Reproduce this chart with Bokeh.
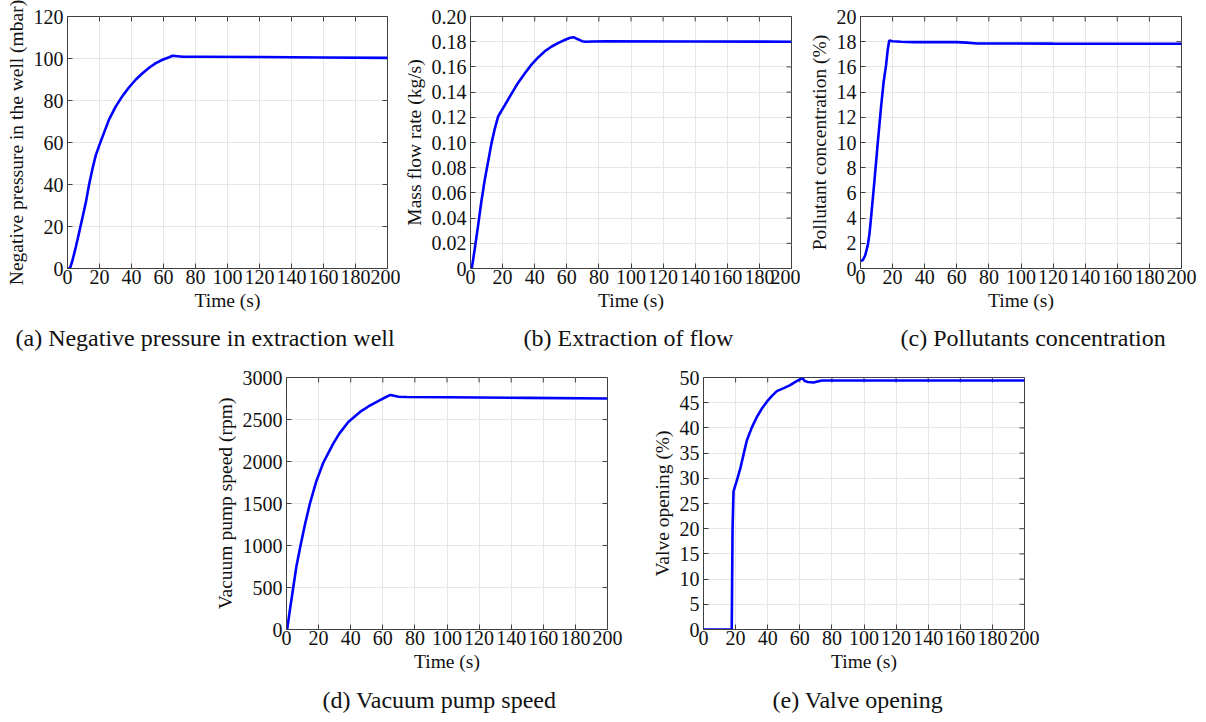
import numpy as np
from bokeh.plotting import figure
from bokeh.layouts import column, row
from bokeh.models import Spacer, FixedTicker, Title
from bokeh.embed import file_html
from bokeh.resources import INLINE

# ---------------- data ----------------
x_ticks = [0, 20, 40, 60, 80, 100, 120, 140, 160, 180, 200]

# (a) Negative pressure in extraction well (mbar)
t_a = [0, 1.5, 3.1, 5.2, 7.3, 9.4, 11.5, 13.5, 15.6, 17.7, 19.8, 21.9, 26, 30.2, 34.4,
       38.5, 42.7, 46.9, 51, 55.2, 59.4, 63.5, 65.6, 68.8, 71.9, 84.4, 120, 160, 200]
v_a = [0, 0, 3.8, 10.2, 17.3, 24.4, 31.6, 40.0, 47.5, 54.0, 58.5, 62.8, 71.0, 77.2, 82.2,
       86.3, 90.0, 93.0, 95.6, 97.8, 99.4, 100.6, 101.3, 101.1, 100.8, 100.8, 100.7, 100.5, 100.3]
yt_a = [0, 20, 40, 60, 80, 100, 120]

# (b) Mass flow rate (kg/s)
t_b = [0, 0.8, 2.5, 4.6, 6.7, 8.8, 10.9, 13.0, 15.1, 17.2, 18.2, 21.3, 25.5, 29.7, 33.9,
       38.1, 42.3, 46.4, 50.6, 54.8, 59.0, 62.1, 64.2, 66.3, 69.5, 71.5, 75.7, 84.1, 140, 200]
v_b = [0, 0, 0.0143, 0.0328, 0.0526, 0.0698, 0.0844, 0.0989, 0.1108, 0.1206, 0.1228, 0.1294,
       0.1386, 0.1475, 0.1550, 0.1620, 0.1677, 0.1725, 0.1762, 0.1791, 0.1815, 0.1831, 0.1836,
       0.1823, 0.1804, 0.1799, 0.1802, 0.1804, 0.1802, 0.1800]
yt_b = [0, 0.02, 0.04, 0.06, 0.08, 0.10, 0.12, 0.14, 0.16, 0.18, 0.20]
yl_b = ["0", "0.02", "0.04", "0.06", "0.08", "0.10", "0.12", "0.14", "0.16", "0.18", "0.20"]

# (c) Pollutant concentration (%)
t_c = [0, 1.4, 2.9, 4.5, 5.6, 6.6, 8.7, 10.7, 12.8, 14.4, 15.9, 16.9, 17.9, 20, 25.2, 33.4,
       60, 66, 72.7, 120, 200]
v_c = [0.62, 0.66, 1.03, 1.83, 2.75, 4.07, 6.98, 9.89, 12.8, 14.8, 16.1, 17.3, 18.1, 18.04,
       18.0, 17.97, 17.97, 17.93, 17.86, 17.85, 17.84]
yt_c = [0, 2, 4, 6, 8, 10, 12, 14, 16, 18, 20]

# (d) Vacuum pump speed (rpm)
t_d = [0, 0.4, 2.1, 4.2, 6.25, 8.75, 11.5, 14.6, 18.5, 22.9, 29.2, 33, 38.5, 45.8, 51,
       54.2, 58.3, 62, 64.8, 67, 69.8, 75, 100, 150, 200]
v_d = [0, 0, 230, 500, 760, 1000, 1250, 1500, 1760, 1985, 2215, 2335, 2470, 2590, 2655,
       2690, 2731, 2768, 2793, 2782, 2770, 2768, 2765, 2758, 2750]
yt_d = [0, 500, 1000, 1500, 2000, 2500, 3000]

# (e) Valve opening (%)
t_e = [0, 17.6, 18.1, 18.7, 20.8, 22.9, 25, 27, 30, 33.3, 36.5, 39.5, 42.5, 45.7, 50, 54,
       57, 60.3, 62, 63, 65, 68.6, 71, 73.8, 120, 200]
v_e = [0, 0, 20, 27.4, 29.6, 31.9, 34.8, 37.5, 40.0, 42.2, 43.9, 45.2, 46.3, 47.3, 47.9,
       48.5, 49.1, 49.7, 49.8, 49.3, 49.1, 49.0, 49.2, 49.4, 49.4, 49.4]
yt_e = [0, 5, 10, 15, 20, 25, 30, 35, 40, 45, 50]

captions = ["(a) Negative pressure in extraction well", "(b) Extraction of flow",
            "(c) Pollutants concentration", "(d) Vacuum pump speed", "(e) Valve opening"]
y_labels = ["Negative pressure in the well (mbar)", "Mass flow rate (kg/s)",
            "Pollutant concentration (%)", "Vacuum pump speed (rpm)", "Valve opening (%)"]

FONT = "Liberation Serif"
FRAME_COL = "#404040"


def make_panel(t, v, yticks, ylabel, caption, width, height, bl, bt, fw, cap_offset,
               cap_standoff, ylabels=None):
    ymax = yticks[-1]
    p = figure(width=width, height=height, output_backend="svg", toolbar_location=None,
               x_range=(0, 200), y_range=(0, ymax),
               min_border_left=bl, min_border_top=bt,
               min_border_right=width - bl - fw, min_border_bottom=height - bt - 252,
               background_fill_color="white", border_fill_color="white")
    p.outline_line_color = FRAME_COL
    p.outline_line_width = 1
    p.outline_line_alpha = 1
    p.xaxis.ticker = FixedTicker(ticks=x_ticks)
    p.yaxis.ticker = FixedTicker(ticks=yticks)
    if ylabels is not None:
        p.yaxis.major_label_overrides = {k: s for k, s in zip(yticks, ylabels)}
    for ax in (p.xaxis[0], p.yaxis[0]):
        ax.major_tick_in = 5
        ax.major_tick_out = 0
        ax.minor_tick_in = 0
        ax.minor_tick_out = 0
        ax.axis_line_color = FRAME_COL
        ax.major_tick_line_color = FRAME_COL
        ax.major_label_text_font = FONT
        ax.major_label_text_font_size = "20px"
        ax.major_label_text_color = "#111111"
        ax.axis_label_text_font = FONT
        ax.axis_label_text_font_size = "19.5px"
        ax.axis_label_text_font_style = "normal"
        ax.axis_label_text_color = "#111111"
    p.xaxis.major_label_standoff = 1
    p.xaxis.axis_label_standoff = 3
    p.yaxis.major_label_standoff = 4
    p.yaxis.axis_label_standoff = 4
    p.xaxis.axis_label = "Time (s)"
    p.yaxis.axis_label = ylabel
    p.grid.grid_line_color = "#e6e6e6"
    p.grid.grid_line_width = 1
    # inward ticks on top and right edges
    p.scatter(x=x_ticks, y=[ymax] * len(x_ticks), marker="dash", angle=np.pi / 2,
              size=10, line_color=FRAME_COL, line_width=1)
    p.scatter(x=[200] * len(yticks), y=yticks, marker="dash",
              size=10, line_color=FRAME_COL, line_width=1)
    p.line(t, v, line_color="#0000ff", line_width=2.6)
    cap = Title(text=caption, align="left", offset=cap_offset,
                text_font=FONT, text_font_size="24px", text_font_style="normal",
                text_color="#111111", standoff=cap_standoff)
    p.add_layout(cap, "below")
    return p


pa = make_panel(t_a, v_a, yt_a, y_labels[0], captions[0], 400, 360, 67, 16, 320, -52, 18)
pb = make_panel(t_b, v_b, yt_b, y_labels[1], captions[1], 400, 360, 70, 16, 321, 53, 18, yl_b)
pc = make_panel(t_c, v_c, yt_c, y_labels[2], captions[2], 406, 360, 60, 16, 321, 40, 18)
pd = make_panel(t_d, v_d, yt_d, y_labels[3], captions[3], 440, 362, 86, 17, 321, 36, 20)
pe = make_panel(t_e, v_e, yt_e, y_labels[4], captions[4], 566, 362, 63, 17, 321, 69, 20)

layout = column(row(pa, pb, pc), row(Spacer(width=200, height=362), pd, pe))

open("out.html", "w").write(file_html(layout, INLINE))
